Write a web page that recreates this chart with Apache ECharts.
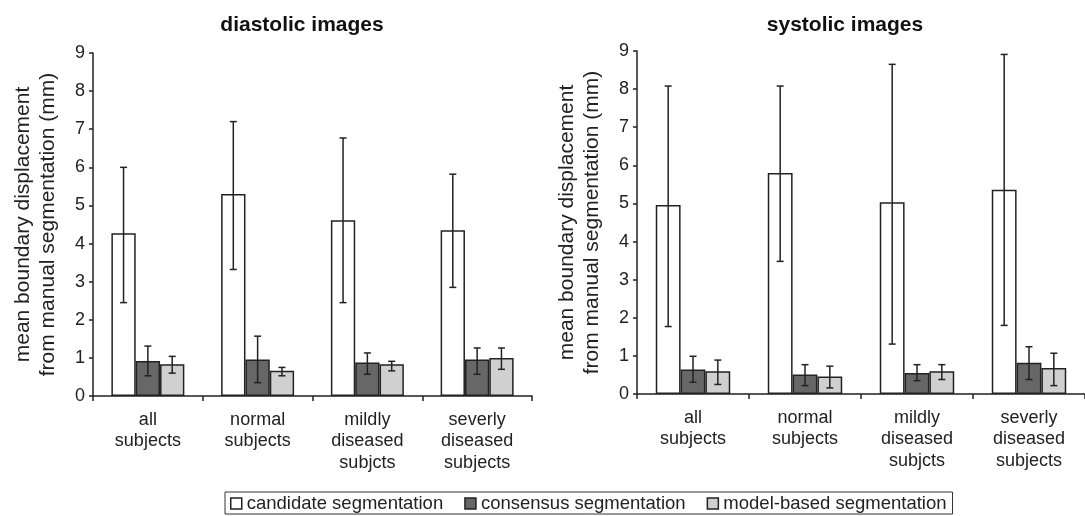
<!DOCTYPE html>
<html>
<head>
<meta charset="utf-8">
<script src="https://cdn.jsdelivr.net/npm/echarts@6/dist/echarts.min.js"></script>
<style>
html,body{margin:0;padding:0;background:#fff;}
#chart{width:1085px;height:516px;}
</style>
</head>
<body>
<div id="chart"></div>
<script>
// ---- data ----
const categories = ['all\nsubjects', 'normal\nsubjects', 'mildly\ndiseased\nsubjcts', 'severly\ndiseased\nsubjects'];
const seriesNames = ['candidate segmentation', 'consensus segmentation', 'model-based segmentation'];
const yTicks = [0, 1, 2, 3, 4, 5, 6, 7, 8, 9];

// diastolic images
const diaCandidate     = [4.27, 5.30, 4.61, 4.35];
const diaCandidateLow  = [2.45, 3.32, 2.45, 2.85];
const diaCandidateHigh = [6.00, 7.20, 6.77, 5.82];
const diaConsensus     = [0.92, 0.96, 0.88, 0.96];
const diaConsensusLow  = [0.53, 0.35, 0.57, 0.57];
const diaConsensusHigh = [1.31, 1.57, 1.13, 1.26];
const diaModel         = [0.83, 0.66, 0.83, 1.00];
const diaModelLow      = [0.60, 0.53, 0.66, 0.70];
const diaModelHigh     = [1.04, 0.75, 0.91, 1.26];

// systolic images
const sysCandidate     = [4.96, 5.80, 5.03, 5.36];
const sysCandidateLow  = [1.77, 3.48, 1.31, 1.80];
const sysCandidateHigh = [8.08, 8.08, 8.65, 8.91];
const sysConsensus     = [0.64, 0.51, 0.55, 0.82];
const sysConsensusLow  = [0.31, 0.22, 0.35, 0.38];
const sysConsensusHigh = [0.99, 0.77, 0.77, 1.24];
const sysModel         = [0.60, 0.46, 0.60, 0.68];
const sysModelLow      = [0.25, 0.16, 0.38, 0.22];
const sysModelHigh     = [0.89, 0.73, 0.77, 1.07];

// ---- styles ----
const FONT = '"Liberation Sans", Arial, sans-serif';
const INK = '#222';
const barColors = ['#ffffff', '#676767', '#d0d0d0'];
const GAP = 0.335;

function barSeries(gi, name, values, color) {
  return {
    type: 'bar', name: name, xAxisIndex: gi, yAxisIndex: gi,
    data: values, barGap: '0%', barCategoryGap: (GAP * 100) + '%',
    itemStyle: { color: color, borderColor: INK, borderWidth: 1.5 },
    silent: true
  };
}
function errSeries(gi, low, high, slot) {
  return {
    type: 'custom', xAxisIndex: gi, yAxisIndex: gi, z: 10, silent: true,
    data: low.map((l, i) => [i, l, high[i]]),
    renderItem: function (params, api) {
      const c = api.value(0);
      const pl = api.coord([c, api.value(1)]);
      const ph = api.coord([c, api.value(2)]);
      const band = api.size([1, 0])[0];
      const bw = band * (1 - GAP) / 3;
      const x = pl[0] - 1.5 * bw + bw * (slot + 0.5);
      const cap = 3.5;
      const st = { stroke: INK, lineWidth: 1.5 };
      return {
        type: 'group',
        children: [
          { type: 'line', shape: { x1: x, y1: pl[1], x2: x, y2: ph[1] }, style: st },
          { type: 'line', shape: { x1: x - cap, y1: pl[1], x2: x + cap, y2: pl[1] }, style: st },
          { type: 'line', shape: { x1: x - cap, y1: ph[1], x2: x + cap, y2: ph[1] }, style: st }
        ]
      };
    }
  };
}
function xAxisDef(gi) {
  return {
    type: 'category', gridIndex: gi, data: categories,
    axisLine: { lineStyle: { color: INK, width: 1.5 } },
    axisTick: { show: true, length: 5, lineStyle: { color: INK, width: 1.5 } },
    axisLabel: { color: INK, fontSize: 18, lineHeight: 21.5, fontFamily: FONT, margin: 13, interval: 0 },
    splitLine: { show: false }
  };
}
function yAxisDef(gi) {
  return {
    type: 'value', gridIndex: gi, min: yTicks[0], max: yTicks[yTicks.length - 1], interval: 1,
    name: 'mean boundary displacement\nfrom manual segmentation (mm)',
    nameLocation: 'middle', nameRotate: 90, nameGap: 32,
    nameTextStyle: { color: INK, fontSize: 21, lineHeight: 25, fontFamily: FONT },
    axisLine: { show: true, lineStyle: { color: INK, width: 1.5 } },
    axisTick: { show: true, length: 4, lineStyle: { color: INK, width: 1.5 } },
    axisLabel: { color: INK, fontSize: 18, fontFamily: FONT, margin: 8 },
    splitLine: { show: false }
  };
}

const chart = echarts.init(document.getElementById('chart'), null, { renderer: 'canvas' });
chart.setOption({
  animation: false,
  backgroundColor: '#ffffff',
  textStyle: { fontFamily: FONT },
  title: [
    { text: 'diastolic images', left: 297, top: 10, textAlign: 'center',
      textStyle: { fontSize: 21, fontWeight: 'bold', color: '#111', fontFamily: FONT } },
    { text: 'systolic images', left: 840, top: 10, textAlign: 'center',
      textStyle: { fontSize: 21, fontWeight: 'bold', color: '#111', fontFamily: FONT } }
  ],
  grid: [
    { left: 93, top: 53, width: 439, height: 343 },
    { left: 637, top: 51, width: 453, height: 343 }
  ],
  xAxis: [xAxisDef(0), xAxisDef(1)],
  yAxis: [yAxisDef(0), yAxisDef(1)],
  legend: {
    data: seriesNames, left: 225, top: 492, icon: 'rect',
    itemWidth: 11, itemHeight: 11, itemGap: 21,
    borderColor: '#333', borderWidth: 1, padding: [2, 6, 1, 5],
    textStyle: { color: INK, fontSize: 18.5, fontFamily: FONT },
    itemStyle: { borderColor: INK, borderWidth: 1.5 },
    selectedMode: false
  },
  series: [
    barSeries(0, seriesNames[0], diaCandidate, barColors[0]),
    barSeries(0, seriesNames[1], diaConsensus, barColors[1]),
    barSeries(0, seriesNames[2], diaModel, barColors[2]),
    errSeries(0, diaCandidateLow, diaCandidateHigh, 0),
    errSeries(0, diaConsensusLow, diaConsensusHigh, 1),
    errSeries(0, diaModelLow, diaModelHigh, 2),
    barSeries(1, seriesNames[0], sysCandidate, barColors[0]),
    barSeries(1, seriesNames[1], sysConsensus, barColors[1]),
    barSeries(1, seriesNames[2], sysModel, barColors[2]),
    errSeries(1, sysCandidateLow, sysCandidateHigh, 0),
    errSeries(1, sysConsensusLow, sysConsensusHigh, 1),
    errSeries(1, sysModelLow, sysModelHigh, 2)
  ]
});
</script>
</body>
</html>
